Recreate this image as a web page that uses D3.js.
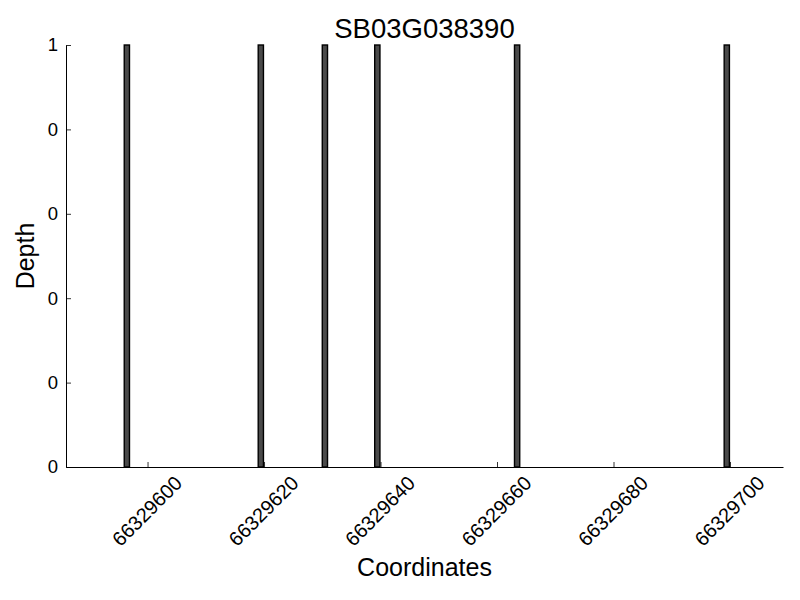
<!DOCTYPE html>
<html>
<head>
<meta charset="utf-8">
<script src="https://cdn.jsdelivr.net/npm/d3@7"></script>
<style>
  body { margin: 0; background: #fff; }
  svg text { font-family: "Liberation Sans", Arial, sans-serif; fill: #000; }
</style>
</head>
<body>
<div id="chart"></div>
<script>
// data
const coordinates = [66329596, 66329619, 66329630, 66329639, 66329663, 66329699];
const depth = [1, 1, 1, 1, 1, 1];
const xTicks = [66329600, 66329620, 66329640, 66329660, 66329680, 66329700];
const yTicks = [0, 0.2, 0.4, 0.6, 0.8, 1];
const yTickLabels = ["0", "0", "0", "0", "0", "1"];
const xDomain = [66329586, 66329709.1];

const margin = { top: 45, right: 17, bottom: 133, left: 66 };
const width = 800 - margin.left - margin.right;
const height = 600 - margin.top - margin.bottom;
const barWidth = 0.9; // in coordinate units

const svg = d3.select("#chart")
  .append("svg")
  .attr("width", 800)
  .attr("height", 600);

const g = svg.append("g")
  .attr("transform", "translate(" + margin.left + "," + margin.top + ")");

const x = d3.scaleLinear().domain(xDomain).range([0, width]);
const y = d3.scaleLinear().domain([0, 1]).range([height, 0]);

// bars
g.selectAll("rect.bar")
  .data(coordinates)
  .enter().append("rect")
  .attr("class", "bar")
  .attr("x", d => x(d))
  .attr("width", d => x(d + barWidth) - x(d))
  .attr("y", (d, i) => y(depth[i]))
  .attr("height", (d, i) => y(0) - y(depth[i]))
  .attr("fill", "#4a4a4a")
  .attr("stroke", "#000")
  .attr("stroke-width", 1.4);

// x axis, ticks pointing inward
const xAxis = g.append("g")
  .attr("transform", "translate(0," + height + ")")
  .call(d3.axisBottom(x)
    .tickValues(xTicks)
    .tickFormat(d3.format("d"))
    .tickSizeInner(-5)
    .tickSizeOuter(0));

xAxis.selectAll("text")
  .attr("y", 0)
  .attr("dy", null)
  .attr("text-anchor", "middle")
  .attr("dominant-baseline", "central")
  .attr("transform", "translate(-1,44) rotate(-45)")
  .style("font-size", "20px");

// y axis
const yAxis = g.append("g")
  .call(d3.axisLeft(y)
    .tickValues(yTicks)
    .tickFormat((d, i) => yTickLabels[i])
    .tickSizeInner(-5)
    .tickSizeOuter(0)
    .tickPadding(8));

yAxis.selectAll("text").style("font-size", "18.5px");

svg.selectAll(".domain, .tick line").attr("stroke", "#000");
svg.selectAll(".tick line").attr("stroke-width", 0.8);

// title and labels
svg.append("text")
  .attr("x", margin.left + width / 2)
  .attr("y", 38)
  .attr("text-anchor", "middle")
  .style("font-size", "27.5px")
  .text("SB03G038390");

svg.append("text")
  .attr("x", margin.left + width / 2)
  .attr("y", 576)
  .attr("text-anchor", "middle")
  .style("font-size", "25px")
  .text("Coordinates");

svg.append("text")
  .attr("transform", "translate(34," + (margin.top + height / 2) + ") rotate(-90)")
  .attr("text-anchor", "middle")
  .style("font-size", "25px")
  .text("Depth");
</script>
</body>
</html>
